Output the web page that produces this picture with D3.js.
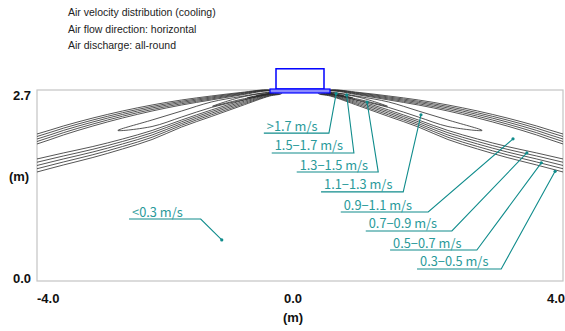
<!DOCTYPE html>
<html>
<head>
<meta charset="utf-8">
<script src="https://cdn.jsdelivr.net/npm/d3@7"></script>
<style>
  body { margin: 0; background: #fff; }
  svg { display: block; }
</style>
</head>
<body>
<div id="chart"></div>
<script>
// header text
const titleLines = [
  'Air velocity distribution (cooling)',
  'Air flow direction: horizontal',
  'Air discharge: all-round'
];

// axes (m)
const xTicks = [-4.0, 0.0, 4.0];
const yTicks = [0.0, 2.7];

// jet contours, right side (mirrored for left). x stations in m
const stationX = [0.46, 0.9, 1.35, 1.8, 2.25, 2.7, 3.15, 3.6, 4.0, 4.4];

// upper edge of each outer contour, outermost first (m)
const bandUpper = [
  [2.700, 2.665, 2.615, 2.559, 2.488, 2.403, 2.304, 2.191, 2.078, 1.993],
  [2.697, 2.657, 2.601, 2.541, 2.467, 2.378, 2.276, 2.160, 2.043, 1.958],
  [2.693, 2.648, 2.587, 2.524, 2.446, 2.354, 2.248, 2.128, 2.007, 1.923],
  [2.690, 2.639, 2.573, 2.506, 2.424, 2.329, 2.219, 2.096, 1.972, 1.887],
  [2.686, 2.629, 2.559, 2.488, 2.403, 2.304, 2.191, 2.064, 1.937, 1.852]
];
// lower edge of the same contours (m)
const bandLower = [
  [2.615, 2.474, 2.325, 2.177, 2.000, 1.866, 1.746, 1.640, 1.541, 1.442],
  [2.622, 2.491, 2.348, 2.202, 2.032, 1.901, 1.785, 1.682, 1.587, 1.491],
  [2.629, 2.509, 2.371, 2.226, 2.064, 1.937, 1.824, 1.725, 1.633, 1.541],
  [2.636, 2.527, 2.394, 2.251, 2.096, 1.972, 1.862, 1.767, 1.679, 1.591],
  [2.643, 2.545, 2.417, 2.276, 2.128, 2.007, 1.901, 1.810, 1.725, 1.640]
];
// where each outer contour turns under the outlet
const bandApex = [[0.28, 2.648], [0.30, 2.649], [0.32, 2.650], [0.34, 2.651], [0.36, 2.652]];

// closed inner contours (core of the jet), each a ring of [x, y] in m
const coreLoops = [
  [[0.40, 2.652], [0.46, 2.665], [0.9, 2.608], [1.35, 2.530], [1.8, 2.403], [2.25, 2.276], [2.77, 2.128],
   [2.25, 2.184], [1.8, 2.318], [1.35, 2.453], [0.9, 2.552], [0.46, 2.643]],
  [[0.42, 2.654], [0.46, 2.662], [0.9, 2.597], [1.33, 2.470], [0.9, 2.566], [0.46, 2.648]],
  [[0.44, 2.655], [0.62, 2.628], [0.8, 2.590], [0.62, 2.615]],
  [[0.43, 2.654], [0.55, 2.640], [0.66, 2.622], [0.55, 2.632]]
];

// indoor unit (m)
const unitBody = {x0: -0.365, x1: 0.365, y0: 2.714, y1: 3.0};
const unitPanel = {x0: -0.456, x1: 0.456, y0: 2.658, y1: 2.714};

// velocity labels
const labelText = ['>1.7 m/s', '1.5\u22121.7 m/s', '1.3\u22121.5 m/s', '1.1\u22121.3 m/s',
  '0.9\u22121.1 m/s', '0.7\u22120.9 m/s', '0.5\u22120.7 m/s', '0.3\u22120.5 m/s', '<0.3 m/s'];
const labelPoint = [[0.55, 2.65], [0.71, 2.63], [1.02, 2.53], [1.84, 2.35], [3.24, 2.01],
  [3.45, 1.81], [3.67, 1.67], [3.88, 1.55], [-1.19, 0.58]];
const labelElbow = [[0.44, 2.09], [0.82, 1.81], [1.19, 1.54], [1.57, 1.26], [1.95, 0.975],
  [2.31, 0.707], [2.69, 0.438], [3.06, 0.17], [-1.51, 0.876]];
const labelLeft = [-0.55, -0.43, -0.05, 0.32, 0.62, 1.0, 1.37, 1.78, -2.60];

const W = 565, H = 331;
const margin = {left: 37, right: 2, top: 90, bottom: 50};

const svg = d3.select('#chart').append('svg')
  .attr('width', W).attr('height', H);

const x = d3.scaleLinear().domain([-4, 4]).range([margin.left, W - margin.right]);
const y = d3.scaleLinear().domain([0, 2.7]).range([H - margin.bottom, margin.top]);

// title block
svg.append('g').selectAll('text')
  .data(titleLines).enter().append('text')
    .attr('x', 68)
    .attr('y', (d, i) => 16 + i * 16.5)
    .style('font-family', 'Liberation Sans, Arial, sans-serif')
    .style('font-size', '10.5px')
    .style('fill', '#222')
    .text(d => d);

// frame
svg.append('rect')
  .attr('x', x(-4)).attr('y', y(2.7))
  .attr('width', x(4) - x(-4)).attr('height', y(0) - y(2.7))
  .style('fill', 'none').style('stroke', '#c4c4c4').style('stroke-width', 1.2);

svg.append('clipPath').attr('id', 'plotclip')
  .append('rect')
  .attr('x', x(-4)).attr('y', y(2.7) - 1)
  .attr('width', x(4) - x(-4)).attr('height', y(0) - y(2.7) + 1);

const tickFont = g => g
  .style('font-family', 'Liberation Sans, Arial, sans-serif')
  .style('font-size', '13px')
  .style('font-weight', 'bold')
  .style('fill', '#111');

// y tick labels
svg.append('g').selectAll('text')
  .data(yTicks).enter().append('text')
    .attr('x', 31)
    .attr('y', d => y(d))
    .attr('dy', d => d === 0 ? 2 : 10)
    .attr('text-anchor', 'end')
    .text(d => d.toFixed(1))
    .call(tickFont);

svg.append('text').attr('x', 19).attr('y', 181)
  .attr('text-anchor', 'middle').text('(m)').call(tickFont);

// x tick labels
svg.append('g').selectAll('text')
  .data(xTicks).enter().append('text')
    .attr('x', d => x(d))
    .attr('y', H - margin.bottom + 22)
    .attr('dx', d => d < 0 ? 0 : (d > 0 ? 2 : -7))
    .attr('text-anchor', d => d < 0 ? 'start' : (d > 0 ? 'end' : 'middle'))
    .text(d => d.toFixed(1))
    .call(tickFont);

svg.append('text').attr('x', x(0) - 7).attr('y', 322)
  .attr('text-anchor', 'middle').text('(m)').call(tickFont);

// contours
const line = d3.line().x(d => x(d[0])).y(d => y(d[1])).curve(d3.curveCatmullRom.alpha(0.5));
const ring = d3.line().x(d => x(d[0])).y(d => y(d[1])).curve(d3.curveCatmullRomClosed.alpha(0.5));

const contours = svg.append('g').attr('clip-path', 'url(#plotclip)')
  .style('fill', 'none').style('stroke', '#2a2a2a').style('stroke-width', 0.8);

[1, -1].forEach(side => {
  bandUpper.forEach((up, i) => {
    const pts = [];
    for (let k = stationX.length - 1; k >= 0; k--) pts.push([side * stationX[k], up[k]]);
    pts.push([side * bandApex[i][0], bandApex[i][1]]);
    bandLower[i].forEach((v, k) => pts.push([side * stationX[k], v]));
    contours.append('path').attr('d', line(pts));
  });
  coreLoops.forEach(loop => {
    contours.append('path').attr('d', ring(loop.map(p => [side * p[0], p[1]])));
  });
});

// indoor unit
svg.append('rect')
  .attr('x', x(unitBody.x0)).attr('y', y(unitBody.y1))
  .attr('width', x(unitBody.x1) - x(unitBody.x0))
  .attr('height', y(unitBody.y0) - y(unitBody.y1))
  .style('fill', '#fff').style('stroke', '#0000ff').style('stroke-width', 1.5);
svg.append('rect')
  .attr('x', x(unitPanel.x0)).attr('y', y(unitPanel.y1))
  .attr('width', x(unitPanel.x1) - x(unitPanel.x0))
  .attr('height', y(unitPanel.y0) - y(unitPanel.y1))
  .style('fill', '#8a8aff').style('stroke', '#0000ff').style('stroke-width', 1.2);

// velocity labels with leaders
const teal = '#108c8c';
const labels = svg.append('g');
labelText.forEach((t, i) => {
  const ex = x(labelElbow[i][0]), ey = y(labelElbow[i][1]);
  const lx = x(labelLeft[i]);
  const px = x(labelPoint[i][0]), py = y(labelPoint[i][1]);
  labels.append('polyline')
    .attr('points', [[lx, ey], [ex, ey], [px, py]].map(p => p.join(',')).join(' '))
    .style('fill', 'none').style('stroke', teal).style('stroke-width', 1.1);
  labels.append('circle').attr('cx', px).attr('cy', py).attr('r', 1.6).style('fill', teal);
  labels.append('text')
    .attr('x', lx + 3).attr('y', ey - 2.5)
    .style('font-family', '"Noto Sans CJK JP", sans-serif')
    .style('font-size', '12.8px')
    .style('fill', '#2a9a9a')
    .text(t);
});
</script>
</body>
</html>
